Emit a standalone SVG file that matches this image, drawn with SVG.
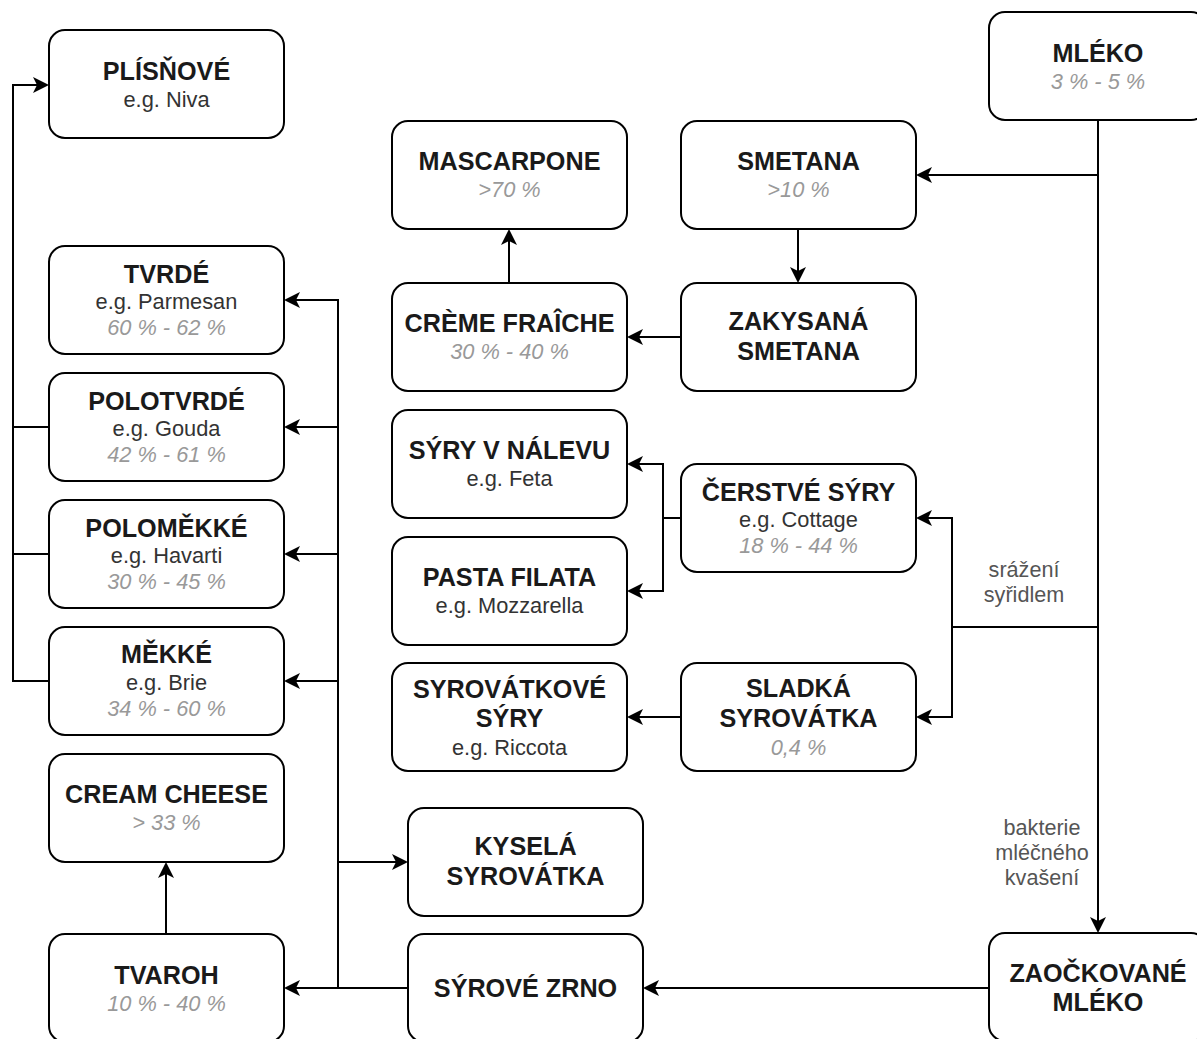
<svg xmlns="http://www.w3.org/2000/svg" width="1197" height="1039" viewBox="0 0 1197 1039">
<style>
.box{fill:#fff;stroke:#000;stroke-width:2}
text{font-family:"Liberation Sans",Arial,sans-serif;text-anchor:middle}
.t{font-size:25.2px;font-weight:bold;fill:#1a1a1a}
.s{font-size:21.8px;fill:#333}
.p{font-size:21.8px;font-style:italic;fill:#999}
.l{font-size:21.6px;fill:#555}
.c{fill:none;stroke:#000;stroke-width:2}
</style>
<defs>
<marker id="arr" viewBox="0 0 16 16" refX="8" refY="8" markerWidth="16" markerHeight="16" markerUnits="userSpaceOnUse" orient="auto">
<path d="M0,0 L16,8 L0,16 L4,8 Z" fill="#000"/>
</marker>
</defs>
<rect width="1197" height="1039" fill="#fff"/>
<g id="connectors">
<path class="c" d="M1098,120 V925" marker-end="url(#arr)"/>
<path class="c" d="M1098,175 H924" marker-end="url(#arr)"/>
<path class="c" d="M1098,627 H952 V518 H924" marker-end="url(#arr)"/>
<path class="c" d="M952,627 V717 H924" marker-end="url(#arr)"/>
<path class="c" d="M798,229 V275" marker-end="url(#arr)"/>
<path class="c" d="M681,337 H635" marker-end="url(#arr)"/>
<path class="c" d="M509,283 V237" marker-end="url(#arr)"/>
<path class="c" d="M681,518 H663 V464 H635" marker-end="url(#arr)"/>
<path class="c" d="M663,518 V591 H635" marker-end="url(#arr)"/>
<path class="c" d="M681,717 H635" marker-end="url(#arr)"/>
<path class="c" d="M989,988 H651" marker-end="url(#arr)"/>
<path class="c" d="M408,988 H292" marker-end="url(#arr)"/>
<path class="c" d="M338,988 V300 H292" marker-end="url(#arr)"/>
<path class="c" d="M338,427 H292" marker-end="url(#arr)"/>
<path class="c" d="M338,554 H292" marker-end="url(#arr)"/>
<path class="c" d="M338,681 H292" marker-end="url(#arr)"/>
<path class="c" d="M338,862 H400" marker-end="url(#arr)"/>
<path class="c" d="M49,681 H13 V85 H41" marker-end="url(#arr)"/>
<path class="c" d="M49,427 H13"/>
<path class="c" d="M49,554 H13"/>
<path class="c" d="M166,934 V870" marker-end="url(#arr)"/>
<text class="l" x="1024" y="577">srážení</text>
<text class="l" x="1024" y="602">syřidlem</text>
<text class="l" x="1042" y="835">bakterie</text>
<text class="l" x="1042" y="860">mléčného</text>
<text class="l" x="1042" y="885">kvašení</text>
</g>
<g id="plisnove"><rect class="box" x="49" y="30" width="235" height="108" rx="16"/><text class="t" x="166.5" y="80">PLÍSŇOVÉ</text><text class="s" x="166.5" y="107">e.g. Niva</text></g>
<g id="mleko"><rect class="box" x="989" y="12" width="218" height="108" rx="16"/><text class="t" x="1098" y="62">MLÉKO</text><text class="p" x="1098" y="89">3 % - 5 %</text></g>
<g id="mascarpone"><rect class="box" x="392" y="121" width="235" height="108" rx="16"/><text class="t" x="509.5" y="170">MASCARPONE</text><text class="p" x="509.5" y="197">&gt;70 %</text></g>
<g id="smetana"><rect class="box" x="681" y="121" width="235" height="108" rx="16"/><text class="t" x="798.5" y="170">SMETANA</text><text class="p" x="798.5" y="197">&gt;10 %</text></g>
<g id="creme"><rect class="box" x="392" y="283" width="235" height="108" rx="16"/><text class="t" x="509.5" y="332">CRÈME FRAÎCHE</text><text class="p" x="509.5" y="359">30 % - 40 %</text></g>
<g id="zakysana"><rect class="box" x="681" y="283" width="235" height="108" rx="16"/><text class="t" x="798.5" y="330">ZAKYSANÁ</text><text class="t" x="798.5" y="360">SMETANA</text></g>
<g id="tvrde"><rect class="box" x="49" y="246" width="235" height="108" rx="16"/><text class="t" x="166.5" y="283">TVRDÉ</text><text class="s" x="166.5" y="309">e.g. Parmesan</text><text class="p" x="166.5" y="335">60 % - 62 %</text></g>
<g id="polotvrde"><rect class="box" x="49" y="373" width="235" height="108" rx="16"/><text class="t" x="166.5" y="410">POLOTVRDÉ</text><text class="s" x="166.5" y="436">e.g. Gouda</text><text class="p" x="166.5" y="462">42 % - 61 %</text></g>
<g id="polomekke"><rect class="box" x="49" y="500" width="235" height="108" rx="16"/><text class="t" x="166.5" y="537">POLOMĚKKÉ</text><text class="s" x="166.5" y="563">e.g. Havarti</text><text class="p" x="166.5" y="589">30 % - 45 %</text></g>
<g id="mekke"><rect class="box" x="49" y="627" width="235" height="108" rx="16"/><text class="t" x="166.5" y="663">MĚKKÉ</text><text class="s" x="166.5" y="690">e.g. Brie</text><text class="p" x="166.5" y="716">34 % - 60 %</text></g>
<g id="cream-cheese"><rect class="box" x="49" y="754" width="235" height="108" rx="16"/><text class="t" x="166.5" y="803">CREAM CHEESE</text><text class="p" x="166.5" y="830">&gt; 33 %</text></g>
<g id="tvaroh"><rect class="box" x="49" y="934" width="235" height="108" rx="16"/><text class="t" x="166.5" y="984">TVAROH</text><text class="p" x="166.5" y="1011">10 % - 40 %</text></g>
<g id="syry-v-nalevu"><rect class="box" x="392" y="410" width="235" height="108" rx="16"/><text class="t" x="509.5" y="459">SÝRY V NÁLEVU</text><text class="s" x="509.5" y="486">e.g. Feta</text></g>
<g id="pasta-filata"><rect class="box" x="392" y="537" width="235" height="108" rx="16"/><text class="t" x="509.5" y="586">PASTA FILATA</text><text class="s" x="509.5" y="613">e.g. Mozzarella</text></g>
<g id="syrovatkove-syry"><rect class="box" x="392" y="663" width="235" height="108" rx="16"/><text class="t" x="509.5" y="698">SYROVÁTKOVÉ</text><text class="t" x="509.5" y="727">SÝRY</text><text class="s" x="509.5" y="755">e.g. Riccota</text></g>
<g id="cerstve-syry"><rect class="box" x="681" y="464" width="235" height="108" rx="16"/><text class="t" x="798.5" y="501">ČERSTVÉ SÝRY</text><text class="s" x="798.5" y="527">e.g. Cottage</text><text class="p" x="798.5" y="553">18 % - 44 %</text></g>
<g id="sladka-syrovatka"><rect class="box" x="681" y="663" width="235" height="108" rx="16"/><text class="t" x="798.5" y="697">SLADKÁ</text><text class="t" x="798.5" y="727">SYROVÁTKA</text><text class="p" x="798.5" y="755">0,4 %</text></g>
<g id="kysela-syrovatka"><rect class="box" x="408" y="808" width="235" height="108" rx="16"/><text class="t" x="525.5" y="855">KYSELÁ</text><text class="t" x="525.5" y="885">SYROVÁTKA</text></g>
<g id="syrove-zrno"><rect class="box" x="408" y="934" width="235" height="108" rx="16"/><text class="t" x="525.5" y="997">SÝROVÉ ZRNO</text></g>
<g id="zaockovane-mleko"><rect class="box" x="989" y="933" width="218" height="108" rx="16"/><text class="t" x="1098" y="982">ZAOČKOVANÉ</text><text class="t" x="1098" y="1011">MLÉKO</text></g>
</svg>
